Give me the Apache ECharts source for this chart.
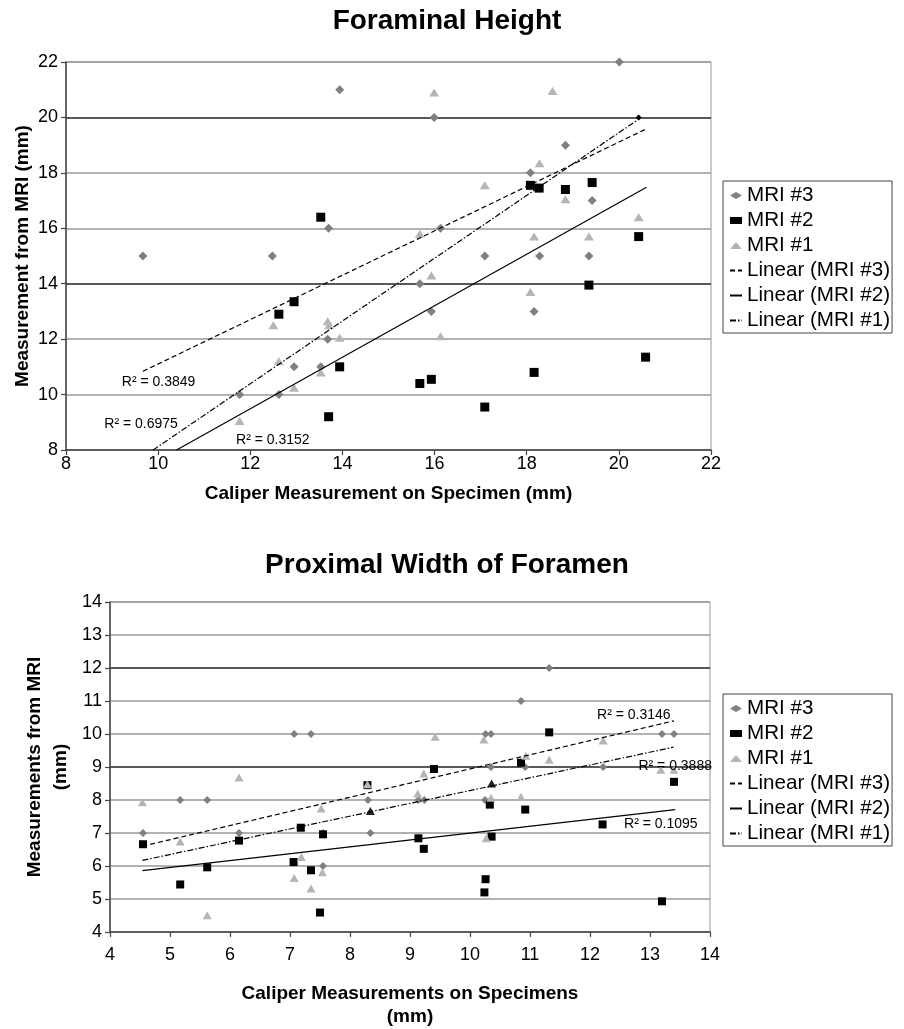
<!DOCTYPE html>
<html><head><meta charset="utf-8">
<script src="https://cdn.jsdelivr.net/npm/echarts@6.0.0/dist/echarts.min.js"></script>
<style>html,body{margin:0;padding:0;background:#fff}#c{width:904px;height:1029px}</style>
</head><body><div id="c"></div>
<script>
// ---------- DATA ----------
const titles = ['Foraminal Height', 'Proximal Width of Foramen'];
const seriesNames = ['MRI #3', 'MRI #2', 'MRI #1', 'Linear (MRI #3)', 'Linear (MRI #2)', 'Linear (MRI #1)'];

// Chart 1: Foraminal Height  [caliper, MRI]
const top3 = [[13.94,21],[13.70,16],[9.67,15],[12.48,15],[20.01,22],[15.99,20],[20.43,20],[18.84,19],[18.08,18],[19.42,17],[16.13,16],[17.09,15],[18.28,15],[19.35,15],[15.68,14],[15.93,13],[18.16,13],[13.68,12],[12.95,11],[13.53,11],[11.77,10],[12.62,10]];
const top2 = [[13.53,16.4],[18.08,17.55],[18.27,17.45],[18.84,17.4],[19.42,17.65],[20.43,15.7],[19.35,13.95],[20.58,11.35],[15.68,10.4],[15.93,10.55],[18.16,10.8],[17.09,9.55],[12.95,13.35],[12.62,12.9],[13.94,11],[13.70,9.2]];
const top1 = [[15.99,20.9],[18.56,20.95],[18.28,18.35],[17.09,17.55],[18.84,17.05],[20.43,16.4],[15.68,15.8],[18.16,15.7],[19.35,15.7],[15.93,14.3],[18.08,13.7],[16.13,12.1],[12.50,12.5],[13.68,12.65],[13.71,12.5],[13.94,12.05],[12.62,11.2],[13.53,10.8],[12.95,10.25],[11.77,9.05]];
const trendTop3 = [[9.67,10.84],[20.60,19.59]];
const trendTop2 = [[10.40,8.0],[20.60,17.48]];
const trendTop1 = [[9.89,8.0],[20.46,19.97]];
const r2Top = ['0.3849', '0.3152', '0.6975'];

// Chart 2: Proximal Width of Foramen  [caliper, MRI]
const bot3 = [[4.55,7],[5.17,8],[5.62,8],[6.15,7],[7.07,10],[7.35,10],[7.55,7],[7.55,6],[8.3,8],[8.34,7],[9.14,8],[9.24,8],[10.25,8],[10.26,10],[10.35,10],[10.35,9],[10.85,11],[10.92,9],[11.32,12],[12.22,9],[13.2,10],[13.4,10]];
const bot2 = [[4.55,6.66],[5.17,5.44],[5.62,5.96],[6.15,6.77],[7.06,6.12],[7.18,7.16],[7.35,5.87],[7.5,4.59],[7.55,6.96],[8.29,8.45],[9.14,6.84],[9.23,6.52],[9.4,8.94],[10.24,5.2],[10.26,5.6],[10.33,7.86],[10.36,6.89],[10.85,9.13],[10.92,7.71],[11.32,10.05],[12.21,7.26],[13.2,4.93],[13.4,8.55]];
const bot1 = [[4.54,7.93],[5.17,6.74],[5.62,4.51],[6.15,8.68],[7.07,5.64],[7.19,6.27],[7.35,5.32],[7.52,7.74],[7.54,5.81],[8.29,8.48],[8.34,7.67],[9.13,8.2],[9.23,8.8],[9.42,9.92],[10.23,9.83],[10.27,6.84],[10.35,8.07],[10.36,8.5],[10.85,8.1],[10.93,9.34],[11.32,9.22],[12.22,9.8],[13.18,8.92],[13.4,8.92]];
const trendBot3 = [[4.54,6.6],[13.4,10.4]];
const trendBot2 = [[4.54,5.86],[13.42,7.71]];
const trendBot1 = [[4.54,6.17],[13.39,9.6]];
const r2Bot = ['0.3146', '0.1095', '0.3888'];

// ---------- STYLE ----------
const FONT = 'Liberation Sans, Arial, sans-serif';
const GREY_D = '#808080', GREY_L = '#b5b5b5';
const DASH = [5, 3], DASHDOT = [6, 2, 1.5, 2];

function r2Label(coord, val) {
  return { coord: coord, value: val, symbol: 'circle', symbolSize: 1,
    itemStyle: { color: 'rgba(0,0,0,0)' },
    label: { show: true, position: 'inside', formatter: 'R² = ' + val, color: '#000', fontSize: 14, fontFamily: FONT } };
}

function scatter(name, data, gi, symbol, size, color, special) {
  return {
    type: 'scatter', name: name, xAxisIndex: gi, yAxisIndex: gi,
    symbol: symbol, symbolSize: size, itemStyle: { color: color, opacity: 1 },
    data: data.map((d, i) => special && special[i] ? { value: d, itemStyle: { color: special[i].color }, symbolSize: special[i].size || size } : d),
    emphasis: { disabled: true }, z: 3
  };
}
function trend(name, data, gi, type, lbl) {
  return {
    type: 'line', name: name, xAxisIndex: gi, yAxisIndex: gi, data: data,
    symbol: 'none', clip: true, silent: true,
    lineStyle: { color: '#000', width: 1.2, type: type },
    itemStyle: { color: '#000' },
    markPoint: { silent: true, data: [lbl] },
    z: 4
  };
}

function axisCommon(min, max, interval) {
  return {
    type: 'value', min: min, max: max, interval: interval,
    axisLine: { show: true, onZero: false, lineStyle: { color: '#444', width: 1.5 } },
    axisTick: { show: true, inside: false, length: 5, lineStyle: { color: '#444', width: 1.2 } },
    axisLabel: { color: '#000', fontSize: 18, fontFamily: FONT },
    nameTextStyle: { color: '#000', fontSize: 19, fontWeight: 'bold', fontFamily: FONT },
    nameLocation: 'middle', nameMoveOverlap: false
  };
}

const gLight = '#999', gDark = '#222';

const legendData = seriesNames.map((n, i) => i < 3 ? n :
  { name: n, itemStyle: { color: 'rgba(0,0,0,0)', borderWidth: 0, opacity: 0 } });

function legend(top) {
  return { orient: 'vertical', left: 723, top: top, padding: [4, 2, 2, 6], itemGap: 4, itemWidth: 12, itemHeight: 7,
    borderColor: '#444', borderWidth: 1, selectedMode: false, data: legendData,
    textStyle: { fontSize: 20.6, lineHeight: 21, fontFamily: FONT, color: '#000' } };
}

const option = {
  backgroundColor: '#fff',
  animation: false,
  title: [
    { text: titles[0], left: 447, top: 7, textAlign: 'center', padding: 0,
      textStyle: { fontSize: 28, fontWeight: 'bold', fontFamily: FONT, color: '#000' } },
    { text: titles[1], left: 447, top: 551, textAlign: 'center', padding: 0,
      textStyle: { fontSize: 28, fontWeight: 'bold', fontFamily: FONT, color: '#000' } }
  ],
  legend: [legend(181), legend(694)],
  grid: [
    { left: 66, top: 62, width: 645, height: 388, show: true, borderColor: '#999', borderWidth: 1, containLabel: false },
    { left: 110, top: 602, width: 600, height: 332.5, show: true, borderColor: '#999', borderWidth: 1, containLabel: false }
  ],
  xAxis: [
    Object.assign(axisCommon(8, 22, 2), { gridIndex: 0, name: 'Caliper Measurement on Specimen (mm)', nameGap: 34,
      splitLine: { show: false } }),
    Object.assign(axisCommon(4, 14, 1), { gridIndex: 1, name: 'Caliper Measurements on Specimens\n(mm)', nameGap: 50,
      splitLine: { show: false } })
  ],
  yAxis: [
    Object.assign(axisCommon(8, 22, 2), { gridIndex: 0, name: 'Measurement from MRI (mm)', nameGap: 34,
      splitLine: { show: true, lineStyle: { width: 1.5, color: [gLight, gLight, gLight, gDark, gLight, gLight, gDark, gLight] } } }),
    Object.assign(axisCommon(4, 14, 1), { gridIndex: 1, name: 'Measurements from MRI\n(mm)', nameGap: 36,
      splitLine: { show: true, lineStyle: { width: 1.5, color: [gLight, gLight, gLight, gLight, gLight, gDark, gLight, gLight, gDark, gLight, gLight] } } })
  ],
  series: [
    scatter(seriesNames[0], top3, 0, 'diamond', 9, GREY_D, { 6: { color: '#000', size: 6 } }),
    scatter(seriesNames[1], top2, 0, 'rect', 9, '#000'),
    scatter(seriesNames[2], top1, 0, 'triangle', [10, 8], GREY_L),
    trend(seriesNames[3], trendTop3, 0, DASH, r2Label([10.01, 10.44], r2Top[0])),
    trend(seriesNames[4], trendTop2, 0, 'solid', r2Label([12.49, 8.36], r2Top[1])),
    trend(seriesNames[5], trendTop1, 0, DASHDOT, r2Label([9.63, 8.93], r2Top[2])),

    scatter(seriesNames[0], bot3, 1, 'diamond', 8, GREY_D),
    scatter(seriesNames[1], bot2, 1, 'rect', 8, '#000'),
    scatter(seriesNames[2], bot1, 1, 'triangle', [9, 8], GREY_L, { 10: { color: '#222' }, 17: { color: '#222' } }),
    trend(seriesNames[3], trendBot3, 1, DASH, r2Label([12.73, 10.57], r2Bot[0])),
    trend(seriesNames[4], trendBot2, 1, 'solid', r2Label([13.18, 7.26], r2Bot[1])),
    trend(seriesNames[5], trendBot1, 1, DASHDOT, r2Label([13.42, 9.04], r2Bot[2]))
  ]
};
option.xAxis[0].axisLabel = Object.assign({}, option.xAxis[0].axisLabel, { margin: 5 });
option.xAxis[1].axisLabel = Object.assign({}, option.xAxis[1].axisLabel, { margin: 14 });
option.yAxis[1].nameTextStyle = Object.assign({}, option.yAxis[1].nameTextStyle, { lineHeight: 26 });
option.xAxis[1].nameTextStyle = Object.assign({}, option.xAxis[1].nameTextStyle, { lineHeight: 23 });

const chart = echarts.init(document.getElementById('c'), null, { renderer: 'canvas' });
chart.setOption(option);
</script></body></html>
